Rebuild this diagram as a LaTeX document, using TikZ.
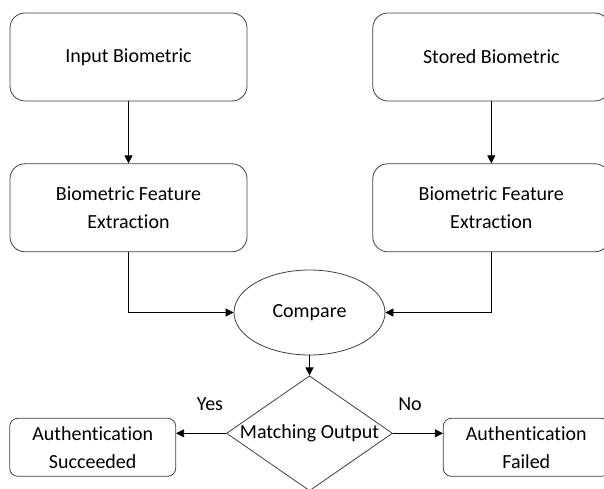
\documentclass[tikz,border=0pt]{standalone}
\usepackage{fontspec}
\setmainfont[RawFeature=-liga]{Carlito}
\usepackage{tikz}
\usetikzlibrary{shapes,arrows,positioning}
\usetikzlibrary{arrows.meta}
\usetikzlibrary{shapes.geometric,calc}
\definecolor{myedge}{RGB}{64,64,64}

\begin{document}
\begin{tikzpicture}[x=1pt,y=1pt,
    every node/.style={font=\fontsize{20}{28}\selectfont,text=black},
    procbox/.style={draw=myedge,line width=0.8pt,rounded corners=15pt,
      minimum width=237pt,minimum height=88pt,align=center,inner sep=0pt},
    endbox/.style={draw=myedge,line width=0.8pt,rounded corners=8pt,
      minimum width=166pt,minimum height=58pt,align=center,inner sep=0pt},
    cmpnode/.style={draw=myedge,line width=0.8pt,ellipse,
      minimum width=151pt,minimum height=85pt,inner sep=0pt},
    decnode/.style={draw=myedge,line width=0.8pt,diamond,
      minimum width=166pt,minimum height=115pt,inner sep=0pt},
    lbl/.style={inner sep=0pt},
    flow/.style={-{Triangle[length=8pt,width=8pt]},line width=0.8pt,black}
  ]
  \useasboundingbox (0,0) rectangle (604,-489);

  % the input column
  \node[procbox] (inA) at (128.5,-57) {Input Biometric};
  \node[procbox,below=62pt of inA] (featA) {Biometric Feature\\Extraction};

  % the stored column
  \node[procbox,right=125pt of inA] (inB) {Stored Biometric};
  \node[procbox,below=62pt of inB] (featB) {Biometric Feature\\Extraction};

  % the comparison and the decision
  \node[cmpnode] (cmp) at (309.5,-312.5) {Compare};
  \node[decnode,below=20pt of cmp,label={center:Matching Output}] (match) {};

  % the results
  \node[endbox,left=50pt of match,yshift=-14pt] (succ) {Authentication\\Succeeded};
  \node[endbox,right=50pt of match,yshift=-14pt] (fail) {Authentication\\Failed};
  \node[lbl] (yes) at (210,-404) {Yes};
  \node[lbl] (no) at (410,-404) {No};

  % the edges
  \draw[flow] (inA) -- (featA);
  \draw[flow] (inB) -- (featB);
  \draw[flow] (featA.south) |- (cmp.west);
  \draw[flow] (featB.south) |- (cmp.east);
  \draw[flow] (cmp) -- (match);
  \draw[flow] (match.west) -- (match.west -| succ.east);
  \draw[flow] (match.east) -- (match.east -| fail.west);
\end{tikzpicture}
\end{document}
